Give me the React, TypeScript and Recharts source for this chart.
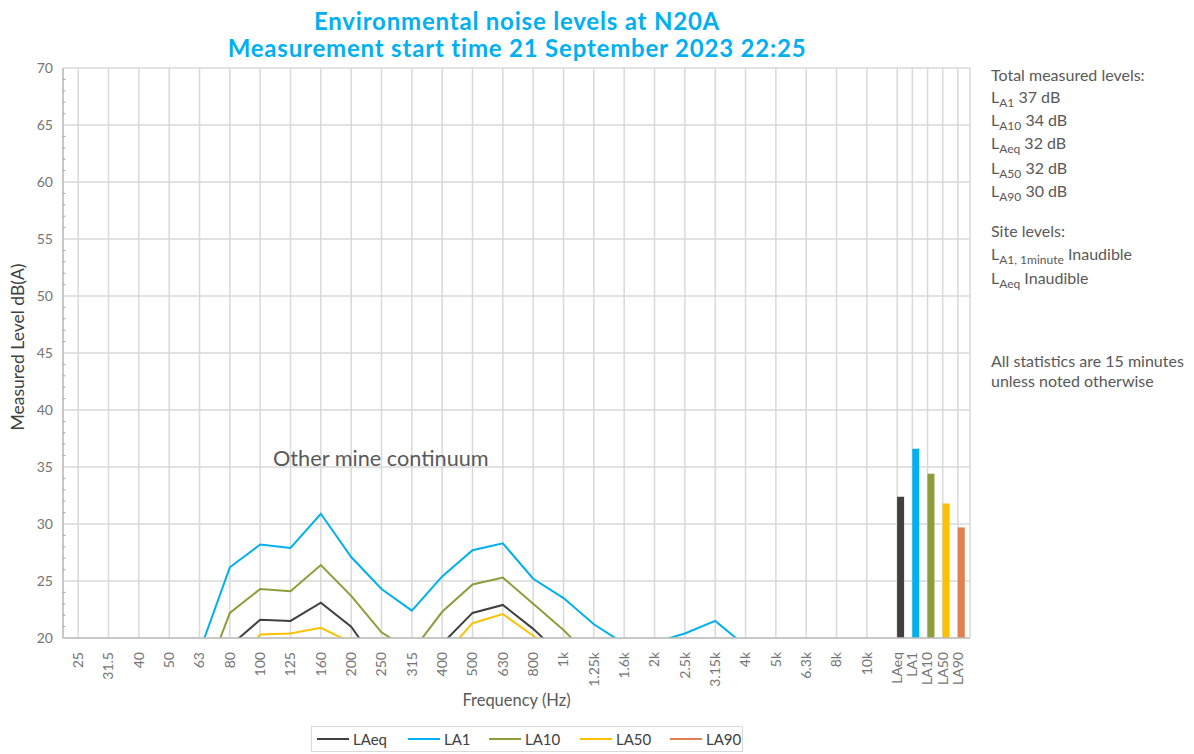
import React from 'react';
import { ComposedChart, Line, Bar, Cell, XAxis, YAxis, CartesianGrid, Rectangle } from 'recharts';

// ---------- data ----------
const frequencies = ['25', '31.5', '40', '50', '63', '80', '100', '125', '160', '200', '250', '315', '400', '500', '630', '800', '1k', '1.25k', '1.6k', '2k', '2.5k', '3.15k', '4k', '5k', '6.3k', '8k', '10k'];

const laeq = [10.8, 10.5, 11.2, 12.3, 14.8, 19.3, 21.6, 21.5, 23.1, 21.0, 17.2, 16.3, 19.5, 22.2, 22.9, 20.8, 18.3, 16.2, 15.1, 14.9, 15.6, 16.4, 14.7, 13.2, 11.9, 10.7, 9.6];
const la1 = [14.2, 13.8, 14.6, 15.9, 18.8, 26.2, 28.2, 27.9, 30.9, 27.1, 24.3, 22.4, 25.4, 27.7, 28.3, 25.2, 23.5, 21.2, 19.5, 19.6, 20.4, 21.5, 19.3, 17.6, 16.2, 14.9, 13.5];
const la10 = [11.5, 11.2, 12.0, 13.1, 15.2, 22.2, 24.3, 24.1, 26.4, 23.7, 20.5, 18.8, 22.3, 24.7, 25.3, 23.0, 20.7, 18.0, 16.6, 16.3, 17.0, 17.8, 16.0, 14.4, 13.0, 11.8, 10.5];
const la50 = [9.6, 9.3, 10.0, 11.1, 13.4, 17.0, 20.3, 20.4, 20.9, 19.6, 16.4, 15.6, 18.3, 21.3, 22.1, 20.2, 18.0, 15.3, 14.2, 14.0, 14.6, 15.3, 13.8, 12.4, 11.1, 10.0, 8.9];
const la90 = [8.1, 7.9, 8.6, 9.7, 11.8, 15.2, 18.4, 18.6, 19.0, 17.8, 14.9, 14.2, 16.7, 19.4, 19.9, 18.5, 16.4, 13.9, 12.9, 12.7, 13.2, 13.9, 12.5, 11.2, 10.0, 9.0, 8.0];

const seriesNames = ['LAeq', 'LA1', 'LA10', 'LA50', 'LA90'];
const seriesColors = ['#404040', '#00B0F0', '#8C9D3A', '#FFC000', '#E08050'];
const seriesValues = [laeq, la1, la10, la50, la90];

const totalValues = [32.4, 36.6, 34.4, 31.8, 29.7];

const yMajorTicks = [20, 25, 30, 35, 40, 45, 50, 55, 60, 65, 70];

const summaryTitle = 'Total measured levels:';
const summarySubs = ['A1', 'A10', 'Aeq', 'A50', 'A90'];
const summaryValues = ['37 dB', '34 dB', '32 dB', '32 dB', '30 dB'];
const siteTitle = 'Site levels:';
const siteSubs = ['A1, 1minute', 'Aeq'];
const siteValues = ['Inaudible', 'Inaudible'];
const noteLines = ['All statistics are 15 minutes', 'unless noted otherwise'];

const titleLines = ['Environmental noise levels at N20A', 'Measurement start time 21 September 2023 22:25'];
const annotation = 'Other mine continuum';

// ---------- build table ----------
const N = frequencies.length;
type Row = { x: number; label: string; total?: number; color?: string; [k: string]: any };
const rows: Row[] = [];
frequencies.forEach((f, i) => {
  const r: Row = { x: i, label: f };
  seriesNames.forEach((s, k) => {
    r[s] = seriesValues[k][i];
  });
  rows.push(r);
});
seriesNames.forEach((s, k) => {
  rows.push({ x: N + k / 2, label: s, total: totalValues[k], color: seriesColors[k] });
});
const xTicks = rows.map((r) => r.x);
const labelOf = (v: number) => {
  const r = rows.find((rr) => Math.abs(rr.x - v) < 1e-6);
  return r ? r.label : '';
};
const yAllTicks: number[] = [];
for (let v = 20; v <= 70; v++) yAllTicks.push(v);

const FONT = 'Lato, "Open Sans", sans-serif';
const TICK_COLOR = '#757575';
const TEXT_COLOR = '#595959';

const XTick = (props: any) => {
  const { x, y, payload } = props;
  return (
    <text
      x={x}
      y={y}
      transform={`rotate(-90, ${x}, ${y})`}
      textAnchor="end"
      dy="0.35em"
      fill={TICK_COLOR}
      fontSize={14}
      fontFamily={FONT}
    >
      {labelOf(payload.value)}
    </text>
  );
};

const YTick = (props: any) => {
  const { x, y, payload } = props;
  if (payload.value % 5 === 0) {
    return (
      <text x={x} y={y} dy="0.35em" textAnchor="end" fill={TICK_COLOR} fontSize={14} fontFamily={FONT}>
        {payload.value}
      </text>
    );
  }
  return <line x1={x + 10} x2={x + 12.5} y1={y} y2={y} stroke="#A6A6A6" strokeWidth={1} />;
};

const BarShape = (props: any) => {
  const { x, y, width, height, payload } = props;
  if (x == null || height == null) return null;
  return <Rectangle x={x + width / 2} y={y} width={width} height={height} fill={payload?.color || props.fill} />;
};

const Sub = ({ t }: { t: string }) => (
  <span style={{ fontSize: 12, position: 'relative', top: 4 }}>{t}</span>
);

export default function App() {
  const summaryTops = [87, 110, 133, 158, 181];
  const siteTops = [244, 268];
  const legendOffsets = [5, 96, 177, 268, 358];
  return (
    <div
      style={{
        position: 'absolute',
        left: 0,
        top: 0,
        width: 1194,
        height: 754,
        background: '#fff',
        fontFamily: FONT,
        overflow: 'hidden',
      }}
    >
      {/* Title */}
      <div
        style={{
          position: 'absolute',
          left: 0,
          top: 7,
          width: 1034,
          textAlign: 'center',
          color: '#00B0F0',
          fontWeight: 700,
          fontSize: 24,
          letterSpacing: 0.8,
          lineHeight: '27px',
        }}
      >
        {titleLines.map((t) => (
          <div key={t}>{t}</div>
        ))}
      </div>

      <div style={{ position: 'absolute', left: 0, top: 0 }}>
        <ComposedChart
          width={1194}
          height={754}
          data={rows}
          margin={{ top: 68, right: 224, bottom: 48, left: 13 }}
          style={{ fontFamily: FONT }}
        >
          <CartesianGrid stroke="#D9D9D9" strokeWidth={1.5} horizontalValues={yMajorTicks} />
          <XAxis
            type="number"
            dataKey="x"
            domain={[-0.5, N + 2.4]}
            ticks={xTicks}
            interval={0}
            allowDataOverflow
            tickLine={false}
            tickSize={0}
            tickMargin={14}
            height={68}
            axisLine={{ stroke: '#BFBFBF', strokeWidth: 1.5 }}
            tick={<XTick />}
            label={{
              value: 'Frequency (Hz)',
              position: 'insideBottom',
              offset: 0,
              fill: TEXT_COLOR,
              fontSize: 16.5,
              fontFamily: FONT,
            }}
          />
          <YAxis
            type="number"
            domain={[20, 70]}
            ticks={yAllTicks}
            interval={0}
            allowDataOverflow
            tickLine={false}
            tickSize={0}
            tickMargin={10}
            width={50}
            axisLine={{ stroke: '#BFBFBF', strokeWidth: 1.5 }}
            tick={<YTick />}
            label={{
              value: 'Measured Level dB(A)',
              angle: -90,
              position: 'insideLeft',
              offset: 5,
              dy: -6,
              fill: '#404040',
              fontSize: 17.5,
              fontFamily: FONT,
              style: { textAnchor: 'middle' },
            }}
          />
          <YAxis
            yAxisId="r"
            orientation="right"
            domain={[20, 70]}
            width={0}
            tick={false}
            tickLine={false}
            axisLine={{ stroke: '#D9D9D9', strokeWidth: 1.5 }}
          />
          <Bar dataKey="total" barSize={7} isAnimationActive={false} shape={<BarShape />}>
            {rows.map((r, i) => (
              <Cell key={i} fill={r.color || '#000'} />
            ))}
          </Bar>
          {seriesNames.map((s, k) => (
            <Line
              key={s}
              type="linear"
              dataKey={s}
              stroke={seriesColors[k]}
              strokeWidth={2}
              dot={false}
              activeDot={false}
              isAnimationActive={false}
              connectNulls={false}
            />
          ))}
        </ComposedChart>
      </div>

      {/* Annotation */}
      <div
        style={{
          position: 'absolute',
          left: 273,
          top: 445,
          fontSize: 21.7,
          lineHeight: 1.2,
          color: TEXT_COLOR,
          whiteSpace: 'nowrap',
        }}
      >
        {annotation}
      </div>

      {/* Right-side summary */}
      <div style={{ position: 'absolute', left: 991, top: 0, color: TEXT_COLOR, fontSize: 16, lineHeight: '20px', whiteSpace: 'nowrap' }}>
        <div style={{ position: 'absolute', top: 65 }}>{summaryTitle}</div>
        {summarySubs.map((s, i) => (
          <div key={s} style={{ position: 'absolute', top: summaryTops[i] }}>
            L<Sub t={s} /> {summaryValues[i]}
          </div>
        ))}
        <div style={{ position: 'absolute', top: 221 }}>{siteTitle}</div>
        {siteSubs.map((s, i) => (
          <div key={s} style={{ position: 'absolute', top: siteTops[i] }}>
            L<Sub t={s} /> {siteValues[i]}
          </div>
        ))}
        {noteLines.map((t, i) => (
          <div key={t} style={{ position: 'absolute', top: 351 + i * 20 }}>
            {t}
          </div>
        ))}
      </div>

      {/* Legend */}
      <div
        style={{
          position: 'absolute',
          left: 311,
          top: 726,
          width: 432,
          height: 26,
          boxSizing: 'border-box',
          border: '1px solid #D9D9D9',
          fontSize: 15,
          color: '#404040',
        }}
      >
        {seriesNames.map((s, k) => (
          <div
            key={s}
            style={{
              position: 'absolute',
              left: legendOffsets[k],
              top: 0,
              height: 24,
              display: 'flex',
              alignItems: 'center',
              whiteSpace: 'nowrap',
            }}
          >
            <div style={{ width: 32, height: 2, background: seriesColors[k], marginRight: 4 }} />
            <span>{s}</span>
          </div>
        ))}
      </div>
    </div>
  );
}
